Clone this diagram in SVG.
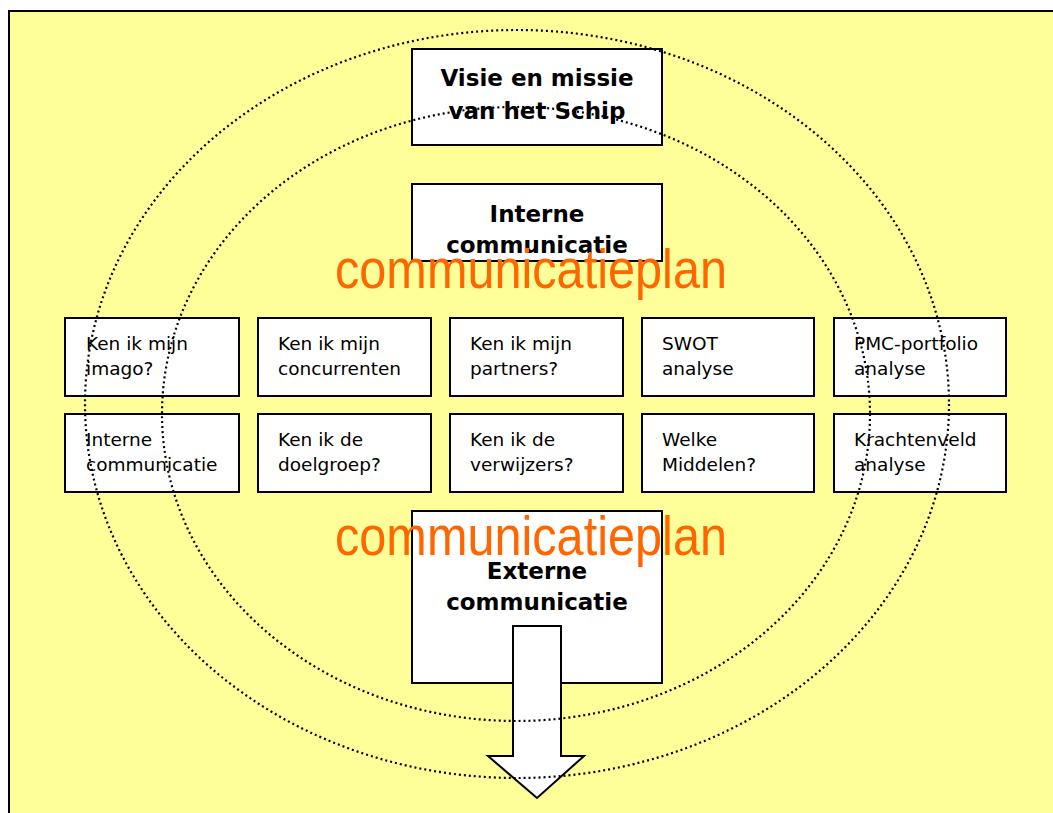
<svg xmlns="http://www.w3.org/2000/svg" width="1053" height="813" viewBox="0 0 1053 813">
  <style>
    .box { fill: #ffffff; stroke: #000000; stroke-width: 2; }
    .ring { fill: none; stroke: #000000; stroke-width: 2.2; stroke-dasharray: 2 3; }
    .title { font-family: "DejaVu Sans", Verdana, sans-serif; font-weight: bold; font-size: 23px; fill: #000000; text-anchor: middle; }
    .label { font-family: "DejaVu Sans", Verdana, sans-serif; font-size: 18.5px; fill: #000000; }
    .plan { font-family: "Liberation Sans", Arial, sans-serif; font-size: 56px; fill: #ff6600; }
  </style>

  <!-- page background -->
  <rect x="9" y="11" width="1060" height="820" fill="#ffff99" stroke="#000000" stroke-width="2"/>

  <!-- top statement -->
  <g id="visie">
    <rect class="box" x="412" y="49" width="250" height="96"/>
    <text class="title" x="537" y="86">Visie en missie</text>
    <text class="title" x="537" y="119">van het Schip</text>
  </g>

  <g id="interne">
    <rect class="box" x="412" y="184" width="250" height="77"/>
    <text class="title" x="537" y="222">Interne</text>
    <text class="title" x="537" y="253">communicatie</text>
  </g>

  <!-- analysis grid, row 1 -->
  <g id="imago">
    <rect class="box" x="65" y="318" width="174" height="78"/>
    <text class="label" x="86" y="350">Ken ik mijn</text>
    <text class="label" x="86" y="375">imago?</text>
  </g>
  <g id="concurrenten">
    <rect class="box" x="258" y="318" width="173" height="78"/>
    <text class="label" x="278" y="350">Ken ik mijn</text>
    <text class="label" x="278" y="375">concurrenten</text>
  </g>
  <g id="partners">
    <rect class="box" x="450" y="318" width="173" height="78"/>
    <text class="label" x="470" y="350">Ken ik mijn</text>
    <text class="label" x="470" y="375">partners?</text>
  </g>
  <g id="swot">
    <rect class="box" x="642" y="318" width="172" height="78"/>
    <text class="label" x="662" y="350">SWOT</text>
    <text class="label" x="662" y="375">analyse</text>
  </g>
  <g id="pmc">
    <rect class="box" x="834" y="318" width="172" height="78"/>
    <text class="label" x="854" y="350">PMC-portfolio</text>
    <text class="label" x="854" y="375">analyse</text>
  </g>

  <!-- analysis grid, row 2 -->
  <g id="interne-klein">
    <rect class="box" x="65" y="414" width="174" height="78"/>
    <text class="label" x="86" y="446">Interne</text>
    <text class="label" x="86" y="471">communicatie</text>
  </g>
  <g id="doelgroep">
    <rect class="box" x="258" y="414" width="173" height="78"/>
    <text class="label" x="278" y="446">Ken ik de</text>
    <text class="label" x="278" y="471">doelgroep?</text>
  </g>
  <g id="verwijzers">
    <rect class="box" x="450" y="414" width="173" height="78"/>
    <text class="label" x="470" y="446">Ken ik de</text>
    <text class="label" x="470" y="471">verwijzers?</text>
  </g>
  <g id="middelen">
    <rect class="box" x="642" y="414" width="172" height="78"/>
    <text class="label" x="662" y="446">Welke</text>
    <text class="label" x="662" y="471">Middelen?</text>
  </g>
  <g id="krachtenveld">
    <rect class="box" x="834" y="414" width="172" height="78"/>
    <text class="label" x="854" y="446">Krachtenveld</text>
    <text class="label" x="854" y="471">analyse</text>
  </g>

  <g id="externe">
    <rect class="box" x="412" y="511" width="250" height="172"/>
    <text class="title" x="537" y="579">Externe</text>
    <text class="title" x="537" y="610">communicatie</text>
  </g>

  <!-- outward arrow -->
  <g id="connectors">
    <path class="box" d="M513 626 H561 V756 H584 L537 798 L488 756 H513 Z"/>
  </g>

  <!-- dotted rings -->
  <g id="rings">
    <ellipse class="ring" cx="517" cy="404" rx="432" ry="374"/>
    <ellipse class="ring" cx="516" cy="414" rx="354" ry="307"/>
  </g>

  <!-- plan labels -->
  <text class="plan" x="335" y="288" textLength="392" lengthAdjust="spacingAndGlyphs">communicatieplan</text>
  <text class="plan" x="335" y="555" textLength="392" lengthAdjust="spacingAndGlyphs">communicatieplan</text>
</svg>
